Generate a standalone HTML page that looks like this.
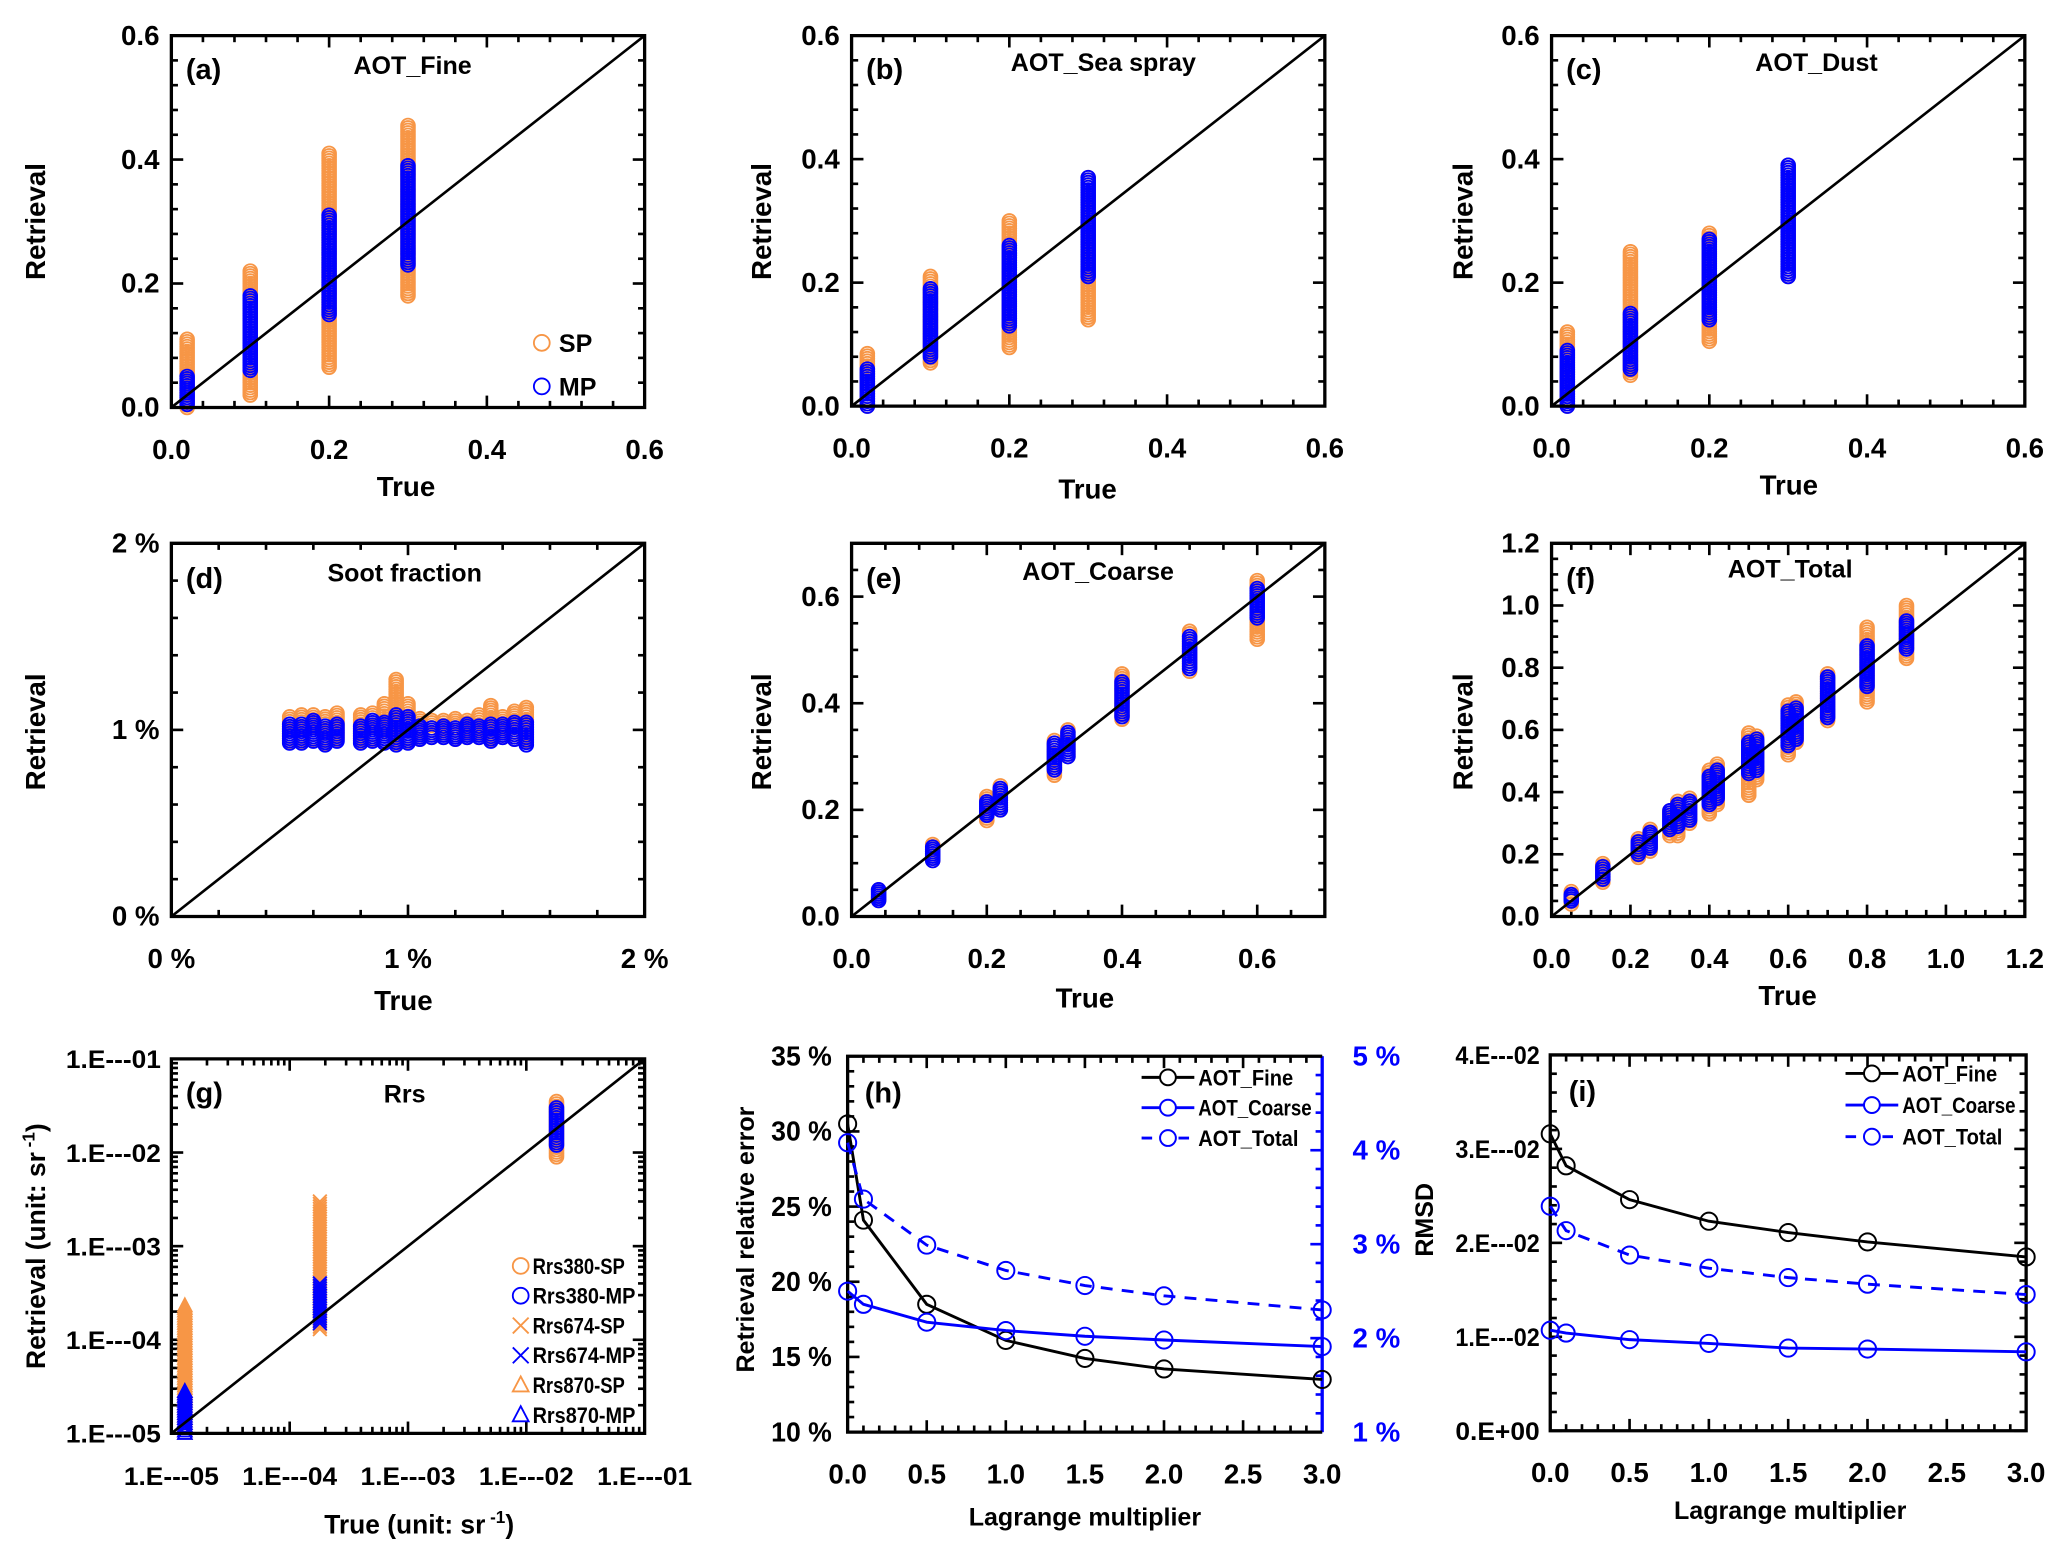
<!DOCTYPE html>
<html><head><meta charset="utf-8"><style>
html,body{margin:0;padding:0;background:#fff;}
svg{display:block;}
text{font-family:"Liberation Sans",sans-serif;font-weight:bold;}
</style></head><body>
<svg id="chart" xmlns="http://www.w3.org/2000/svg" width="2067" height="1560" viewBox="0 0 1568 1183" preserveAspectRatio="none"></svg>
<script>
// ---- data: panel (a) AOT_Fine ----
const aX = [0.02, 0.1, 0.2, 0.3];
const aSpLo = [0.0, 0.02, 0.065, 0.18];
const aSpHi = [0.11, 0.22, 0.41, 0.455];
const aMpLo = [0.005, 0.06, 0.15, 0.23];
const aMpHi = [0.05, 0.18, 0.31, 0.39];
// ---- panel (b) AOT_Sea spray ----
const bX = [0.02, 0.1, 0.2, 0.3];
const bSpLo = [0.0, 0.07, 0.095, 0.14];
const bSpHi = [0.085, 0.21, 0.30, 0.37];
const bMpLo = [0.0, 0.08, 0.13, 0.21];
const bMpHi = [0.06, 0.19, 0.26, 0.37];
// ---- panel (c) AOT_Dust ----
const cX = [0.02, 0.1, 0.2, 0.3];
const cSpLo = [0.0, 0.05, 0.105, 0.21];
const cSpHi = [0.12, 0.25, 0.28, 0.39];
const cMpLo = [0.0, 0.06, 0.14, 0.21];
const cMpHi = [0.09, 0.15, 0.27, 0.39];
// ---- panel (d) Soot fraction (%) ----
const dX = [0.5, 0.55, 0.6, 0.65, 0.7, 0.8, 0.85, 0.9, 0.95, 1.0, 1.05, 1.1, 1.15, 1.2, 1.25, 1.3, 1.35, 1.4, 1.45, 1.5];
const dSpLo = [0.94, 0.94, 0.95, 0.93, 0.95, 0.94, 0.95, 0.94, 0.93, 0.94, 0.95, 0.96, 0.96, 0.95, 0.96, 0.96, 0.95, 0.96, 0.95, 0.94];
const dSpHi = [1.07, 1.08, 1.08, 1.07, 1.09, 1.08, 1.09, 1.14, 1.27, 1.14, 1.06, 1.05, 1.05, 1.06, 1.05, 1.08, 1.13, 1.07, 1.1, 1.12];
const dMpLo = [0.93, 0.93, 0.94, 0.92, 0.94, 0.93, 0.94, 0.93, 0.92, 0.93, 0.95, 0.96, 0.96, 0.95, 0.96, 0.96, 0.94, 0.96, 0.95, 0.92];
const dMpHi = [1.03, 1.03, 1.05, 1.02, 1.03, 1.02, 1.05, 1.04, 1.08, 1.07, 1.02, 1.01, 1.02, 1.01, 1.03, 1.02, 1.03, 1.03, 1.04, 1.04];
// ---- panel (e) AOT_Coarse ----
const eX = [0.04, 0.12, 0.2, 0.22, 0.3, 0.32, 0.4, 0.5, 0.6];
const eSpLo = [0.03, 0.105, 0.18, 0.2, 0.265, 0.3, 0.37, 0.46, 0.52];
const eSpHi = [0.05, 0.135, 0.225, 0.245, 0.33, 0.35, 0.455, 0.535, 0.63];
const eMpLo = [0.03, 0.105, 0.19, 0.2, 0.275, 0.3, 0.375, 0.465, 0.56];
const eMpHi = [0.05, 0.13, 0.215, 0.24, 0.325, 0.345, 0.44, 0.525, 0.615];
// ---- panel (f) AOT_Total ----
const fX = [0.05, 0.13, 0.22, 0.25, 0.3, 0.32, 0.35, 0.4, 0.42, 0.5, 0.52, 0.6, 0.62, 0.7, 0.8, 0.9];
const fSpLo = [0.04, 0.11, 0.19, 0.21, 0.26, 0.26, 0.3, 0.33, 0.36, 0.39, 0.44, 0.52, 0.56, 0.63, 0.69, 0.83];
const fSpHi = [0.08, 0.17, 0.25, 0.28, 0.34, 0.37, 0.38, 0.47, 0.49, 0.59, 0.58, 0.68, 0.69, 0.78, 0.93, 1.0];
const fMpLo = [0.05, 0.12, 0.2, 0.22, 0.28, 0.29, 0.31, 0.36, 0.38, 0.46, 0.47, 0.55, 0.57, 0.64, 0.74, 0.86];
const fMpHi = [0.07, 0.16, 0.24, 0.27, 0.34, 0.36, 0.37, 0.45, 0.47, 0.56, 0.57, 0.66, 0.67, 0.77, 0.87, 0.95];
// ---- panel (g) Rrs (log) ----
const gBands = ['Rrs870', 'Rrs674', 'Rrs380'];
const gX = [1.3e-5, 1.8e-4, 1.8e-2];
const gSpLo = [1.0e-5, 1.3e-4, 9e-3];
const gSpHi = [2.3e-4, 3.0e-3, 3.5e-2];
const gMpLo = [1.0e-5, 1.5e-4, 1.2e-2];
const gMpHi = [2.8e-5, 4.0e-4, 3.0e-2];
// ---- panel (h) relative error ----
const lagrange = [0, 0.1, 0.5, 1, 1.5, 2, 3];
const hFine = [30.5, 24.1, 18.5, 16.1, 14.9, 14.2, 13.5];
const hCoarse = [2.50, 2.36, 2.17, 2.08, 2.02, 1.98, 1.91];
const hTotal = [4.08, 3.48, 2.99, 2.72, 2.56, 2.45, 2.30];
// ---- panel (i) RMSD ----
const iFine = [0.0316, 0.0282, 0.0246, 0.0223, 0.0211, 0.0201, 0.0185];
const iCoarse = [0.0107, 0.0104, 0.0097, 0.0093, 0.0088, 0.0087, 0.0084];
const iTotal = [0.0239, 0.0213, 0.0187, 0.0173, 0.0163, 0.0156, 0.0145];
// tick labels
const ticksAot06 = ['0.0', '0.2', '0.4', '0.6'];
const ticksPct = ['0 %', '1 %', '2 %'];
const ticksAot12 = ['0.0', '0.2', '0.4', '0.6', '0.8', '1.0', '1.2'];
const ticksLog = ['1.E---05', '1.E---04', '1.E---03', '1.E---02', '1.E---01'];
const ticksLag = ['0.0', '0.5', '1.0', '1.5', '2.0', '2.5', '3.0'];
const ticksHLeft = ['10 %', '15 %', '20 %', '25 %', '30 %', '35 %'];
const ticksHRight = ['1 %', '2 %', '3 %', '4 %', '5 %'];
const ticksRmsd = ['0.E+00', '1.E---02', '2.E---02', '3.E---02', '4.E---02'];

const NS = 'http://www.w3.org/2000/svg';
const SVG = document.getElementById('chart');
const OR = '#F79646', BL = '#0000FF';
function el(tag, attrs, parent) {
  const e = document.createElementNS(NS, tag);
  for (const k in attrs) e.setAttribute(k, attrs[k]);
  (parent || SVG).appendChild(e);
  return e;
}
function lin(min, max, a, b) { return v => a + (v - min) / (max - min) * (b - a); }
function logs(min, max, a, b) { const l0 = Math.log10(min), l1 = Math.log10(max); return v => a + (Math.log10(v) - l0) / (l1 - l0) * (b - a); }

function txt(parent, x, y, s, size, anchor, color, name, tlen) {
  const t = el('text', {x: x, y: y, 'font-size': size, 'text-anchor': anchor || 'middle', fill: color || '#000'}, parent);
  if (tlen) { t.setAttribute('textLength', tlen); t.setAttribute('lengthAdjust', 'spacingAndGlyphs'); }
  t.textContent = s;
  
  
  return t;
}

function panel(id, box, xc, yc) {
  const g = el('g', {});
  
  
  const [L, T, R, B] = box;
  const sx = xc.log ? logs(xc.min, xc.max, L, R) : lin(xc.min, xc.max, L, R);
  const sy = yc.log ? logs(yc.min, yc.max, B, T) : lin(yc.min, yc.max, B, T);
  const tk = el('g', {stroke: '#000', 'stroke-width': 2}, g);
  
  
  function ticksFor(c) {
    const out = [];
    if (c.log) {
      for (let d = Math.round(Math.log10(c.min)); d < Math.round(Math.log10(c.max)); d++)
        for (let m = 1; m <= 9; m++) out.push([m * Math.pow(10, d), m === 1]);
      out.push([c.max, true]);
    } else {
      const st = c.step / c.minor;
      for (let i = 0; c.min + i * st <= c.max + 1e-9; i++) out.push([c.min + i * st, i % c.minor === 0]);
    }
    return out;
  }
  ticksFor(xc).forEach(([v, maj]) => {
    const x = sx(v), l = maj ? 9 : 5;
    el('line', {x1: x, y1: B, x2: x, y2: B - l}, tk);
    el('line', {x1: x, y1: T, x2: x, y2: T + l}, tk);
  });
  ticksFor(yc).forEach(([v, maj]) => {
    const y = sy(v), l = maj ? 9 : 5;
    el('line', {x1: L, y1: y, x2: L + l, y2: y}, tk);
    if (!yc.noRight) el('line', {x1: R, y1: y, x2: R - l, y2: y}, tk);
  });
  xc.labels.forEach((s, i) => {
    const v = xc.log ? xc.min * Math.pow(10, i) : xc.min + i * xc.step;
    txt(g, sx(v), B + 39, s, xc.fs || 21, 'middle', '#000', 'x-tick-label', xc.tlen);
  });
  yc.labels.forEach((s, i) => {
    const v = yc.log ? yc.min * Math.pow(10, i) : yc.min + i * yc.step;
    txt(g, L - (yc.gap || 9), sy(v) + 7, s, yc.fs || 21, 'end', '#000', 'y-tick-label', yc.tlen);
  });
  return {g, sx, sy, box};
}
function frameRect(p, noRight) {
  const [L, T, R, B] = p.box;
  const r = el('path', {d: noRight ? `M${R},${T}H${L}V${B}H${R}` : `M${L},${T}H${R}V${B}H${L}Z`, fill: 'none', stroke: '#000', 'stroke-width': 2.5}, p.g);
  
  
}
function diag(p, lo, hi) {
  const d = el('line', {x1: p.sx(lo), y1: p.sy(lo), x2: p.sx(hi), y2: p.sy(hi), stroke: '#000', 'stroke-width': 2}, p.g);
  
  
}
function marker(parent, shape, x, y, color, r) {
  let m;
  if (shape === 'x') m = el('path', {d: `M${x - r},${y - r}L${x + r},${y + r}M${x - r},${y + r}L${x + r},${y - r}`, stroke: color, 'stroke-width': 1.4, fill: 'none'}, parent);
  else if (shape === 'tri') m = el('path', {d: `M${x},${y - r * 1.1}L${x + r},${y + r * 0.8}L${x - r},${y + r * 0.8}Z`, stroke: color, 'stroke-width': 1.4, fill: 'none'}, parent);
  else m = el('circle', {cx: x, cy: y, r: r, stroke: color, 'stroke-width': 1.4, fill: 'none'}, parent);
  return m;
}
function clusters(p, xs, lo, hi, color, name, shapes) {
  const g = el('g', {}, p.g);
  
  
  xs.forEach((x, i) => {
    const px = p.sx(x), y0 = p.sy(lo[i]), y1 = p.sy(hi[i]);
    const n = Math.max(2, Math.ceil(Math.abs(y0 - y1) / 1.9));
    for (let k = 0; k <= n; k++) {
      const py = y0 + (y1 - y0) * k / n;
      const m = marker(g, shapes ? shapes[i] : 'c', px, py, color, 5.2);
      
      
    }
  });
}
function title(p, letter, lx, ly, t, tx, ty) {
  txt(p.g, lx, ly, letter, 22, 'start', '#000', 'panel-letter');
  if (t) txt(p.g, tx, ty, t, 19, 'middle', '#000', 'panel-title');
}
function axisTitles(p, xt, xx, xy, yt, yx, yy, size) {
  txt(p.g, xx, xy, xt, size || 21, 'middle', '#000', 'x-axis-title');
  const t = txt(p.g, yx, yy, yt, size || 21, 'middle', '#000', 'y-axis-title');
  t.setAttribute('transform', `rotate(-90 ${yx} ${yy})`);
  return t;
}
function legendCircle(p, x, y, label, color) {
  const m = marker(p.g, 'c', x, y, color, 6);
  
  
  txt(p.g, x + 13, y + 7, label, 19, 'start', '#000', 'legend-label');
}

// ----- (a) -----
const cfg06 = {min: 0, max: 0.6, step: 0.2, minor: 5, labels: ticksAot06};
let pa = panel('a', [130, 27, 489, 309], cfg06, cfg06);
clusters(pa, aX, aSpLo, aSpHi, OR, 'sp-series');
clusters(pa, aX, aMpLo, aMpHi, BL, 'mp-series');
diag(pa, 0, 0.6); frameRect(pa);
title(pa, '(a)', 141, 60, 'AOT_Fine', 313, 56);
axisTitles(pa, 'True', 308, 376, 'Retrieval', 34, 168);
legendCircle(pa, 411, 260, 'SP', OR);
legendCircle(pa, 411, 293, 'MP', BL);
// ----- (b) -----
let pb = panel('b', [646, 27, 1005, 308], cfg06, cfg06);
clusters(pb, bX, bSpLo, bSpHi, OR, 'sp-series');
clusters(pb, bX, bMpLo, bMpHi, BL, 'mp-series');
diag(pb, 0, 0.6); frameRect(pb);
title(pb, '(b)', 657, 60, 'AOT_Sea spray', 837, 54);
axisTitles(pb, 'True', 825, 378, 'Retrieval', 585, 168);
// ----- (c) -----
let pc = panel('c', [1177, 27, 1536, 308], cfg06, cfg06);
clusters(pc, cX, cSpLo, cSpHi, OR, 'sp-series');
clusters(pc, cX, cMpLo, cMpHi, BL, 'mp-series');
diag(pc, 0, 0.6); frameRect(pc);
title(pc, '(c)', 1188, 60, 'AOT_Dust', 1378, 54);
axisTitles(pc, 'True', 1357, 375, 'Retrieval', 1117, 168);
// ----- (d) -----
const cfgPct = {min: 0, max: 2, step: 1, minor: 5, labels: ticksPct};
let pd = panel('d', [130, 412, 489, 695], cfgPct, cfgPct);
clusters(pd, dX, dSpLo, dSpHi, OR, 'sp-series');
clusters(pd, dX, dMpLo, dMpHi, BL, 'mp-series');
diag(pd, 0, 2); frameRect(pd);
title(pd, '(d)', 141, 446, 'Soot  fraction', 307, 441);
axisTitles(pd, 'True', 306, 766, 'Retrieval', 34, 555);
// ----- (e) -----
const cfg07 = {min: 0, max: 0.7, step: 0.2, minor: 4, labels: ticksAot06};
let pe = panel('e', [646, 412, 1005, 695], cfg07, cfg07);
clusters(pe, eX, eSpLo, eSpHi, OR, 'sp-series');
clusters(pe, eX, eMpLo, eMpHi, BL, 'mp-series');
diag(pe, 0, 0.7); frameRect(pe);
title(pe, '(e)', 657, 446, 'AOT_Coarse', 833, 440);
axisTitles(pe, 'True', 823, 764, 'Retrieval', 585, 555);
// ----- (f) -----
const cfg12 = {min: 0, max: 1.2, step: 0.2, minor: 4, labels: ticksAot12};
let pf = panel('f', [1177, 412, 1536, 695], cfg12, cfg12);
clusters(pf, fX, fSpLo, fSpHi, OR, 'sp-series');
clusters(pf, fX, fMpLo, fMpHi, BL, 'mp-series');
diag(pf, 0, 1.2); frameRect(pf);
title(pf, '(f)', 1188, 446, 'AOT_Total', 1358, 438);
axisTitles(pf, 'True', 1356, 762, 'Retrieval', 1117, 555);
// ----- (g) -----
const cfgLogX = {min: 1e-5, max: 1e-1, log: true, labels: ticksLog, fs: 19, tlen: 72};
const cfgLogY = {min: 1e-5, max: 1e-1, log: true, labels: ticksLog, fs: 19, tlen: 72, gap: 8};
let pg = panel('g', [130, 803, 489, 1087], cfgLogX, cfgLogY);
const gShapes = ['tri', 'x', 'c'];
clusters(pg, gX, gSpLo, gSpHi, OR, 'sp-series', gShapes);
clusters(pg, gX, gMpLo, gMpHi, BL, 'mp-series', gShapes);
diag(pg, 1e-5, 1e-1); frameRect(pg);
title(pg, '(g)', 141, 836, 'Rrs', 307, 836);
{
  const xt = txt(pg.g, 318, 1163, 'True  (unit:  sr', 20, 'middle', '#000', 'x-axis-title');
  const s1 = el('tspan', {'font-size': 13, dy: -8}, xt); s1.textContent = ' -1';
  const s2 = el('tspan', {dy: 8}, xt); s2.textContent = ')';
  const yt = txt(pg.g, 34, 945, 'Retrieval  (unit:  sr', 20, 'middle', '#000', 'y-axis-title');
  yt.setAttribute('transform', 'rotate(-90 34 945)');
  const s3 = el('tspan', {'font-size': 13, dy: -8}, yt); s3.textContent = ' -1';
  const s4 = el('tspan', {dy: 8}, yt); s4.textContent = ')';
}
const gLeg = [['c', OR, 'Rrs380-SP'], ['c', BL, 'Rrs380-MP'], ['x', OR, 'Rrs674-SP'], ['x', BL, 'Rrs674-MP'], ['tri', OR, 'Rrs870-SP'], ['tri', BL, 'Rrs870-MP']];
gLeg.forEach((e, i) => {
  const y = 960 + i * 22.6;
  const m = marker(pg.g, e[0], 395, y, e[1], 6);
  
  
  txt(pg.g, 404, y + 6, e[2], 17, 'start', '#000', 'legend-label', e[2].indexOf('MP') > 0 ? 78 : 70);
});

function series(p, xs, ys, sy, color, dash, name) {
  const g = el('g', {}, p.g);
  
  
  const d = xs.map((x, i) => (i ? 'L' : 'M') + p.sx(x) + ',' + sy(ys[i])).join('');
  const path = el('path', {d: d, fill: 'none', stroke: color, 'stroke-width': 2.2, 'stroke-dasharray': dash ? '9,7' : 'none'}, g);
  
  
  xs.forEach((x, i) => {
    const c = el('circle', {cx: p.sx(x), cy: sy(ys[i]), r: 6.5, fill: 'none', stroke: color, 'stroke-width': 1.5}, g);
    
    
  });
}
function lineLegend(p, x, y, label, color, dash, tlen) {
  const l = el('line', {x1: x, y1: y, x2: x + 40, y2: y, stroke: color, 'stroke-width': 2.2, 'stroke-dasharray': dash ? '8,6' : 'none'}, p.g);
  
  
  const c = el('circle', {cx: x + 20, cy: y, r: 6, fill: '#fff', stroke: color, 'stroke-width': 1.5}, p.g);
  
  
  txt(p.g, x + 43, y + 6, label, 17, 'start', '#000', 'legend-label', tlen);
}
// ----- (h) -----
const cfgLag = {min: 0, max: 3, step: 0.5, minor: 5, labels: ticksLag};
let ph = panel('h', [643, 801, 1003, 1086], cfgLag, {min: 10, max: 35, step: 5, minor: 5, labels: ticksHLeft, noRight: true, tlen: 46, gap: 12});
const hR = lin(1, 5, 1086, 801);
{
  const rg = el('g', {stroke: BL, 'stroke-width': 2}, ph.g);
  
  
  for (let i = 0; i <= 20; i++) {
    const v = 1 + i * 0.2, y = hR(v), l = i % 5 === 0 ? 9 : 5;
    el('line', {x1: 1003, y1: y, x2: 1003 - l, y2: y}, rg);
  }
  const ax = el('line', {x1: 1003, y1: 801, x2: 1003, y2: 1086, stroke: BL, 'stroke-width': 2.5}, ph.g);
  
  
  ticksHRight.forEach((s, i) => txt(ph.g, 1026, hR(1 + i) + 7, s, 21, 'start', BL, 'right-y-tick-label'));
}
frameRect(ph, true);
series(ph, lagrange, hFine, ph.sy, '#000', false, 'aot-fine');
series(ph, lagrange, hCoarse, hR, BL, false, 'aot-coarse');
series(ph, lagrange, hTotal, hR, BL, true, 'aot-total');
title(ph, '(h)', 656, 836);
axisTitles(ph, 'Lagrange  multiplier', 823, 1157, 'Retrieval  relative  error', 572, 940, 19);
lineLegend(ph, 866, 817, 'AOT_Fine', '#000', false, 72);
lineLegend(ph, 866, 840, 'AOT_Coarse', BL, false, 86);
lineLegend(ph, 866, 863, 'AOT_Total', BL, true, 76);
// ----- (i) -----
let pi = panel('i', [1176, 800, 1537, 1085], cfgLag, {min: 0, max: 0.04, step: 0.01, minor: 5, labels: ticksRmsd, fs: 19, tlen: 64, gap: 8});
frameRect(pi);
series(pi, lagrange, iFine, pi.sy, '#000', false, 'aot-fine');
series(pi, lagrange, iCoarse, pi.sy, BL, false, 'aot-coarse');
series(pi, lagrange, iTotal, pi.sy, BL, true, 'aot-total');
title(pi, '(i)', 1190, 835);
axisTitles(pi, 'Lagrange  multiplier', 1358, 1152, 'RMSD', 1087, 925, 19);
lineLegend(pi, 1400, 814, 'AOT_Fine', '#000', false, 72);
lineLegend(pi, 1400, 838, 'AOT_Coarse', BL, false, 86);
lineLegend(pi, 1400, 862, 'AOT_Total', BL, true, 76);
</script>
</body></html>
